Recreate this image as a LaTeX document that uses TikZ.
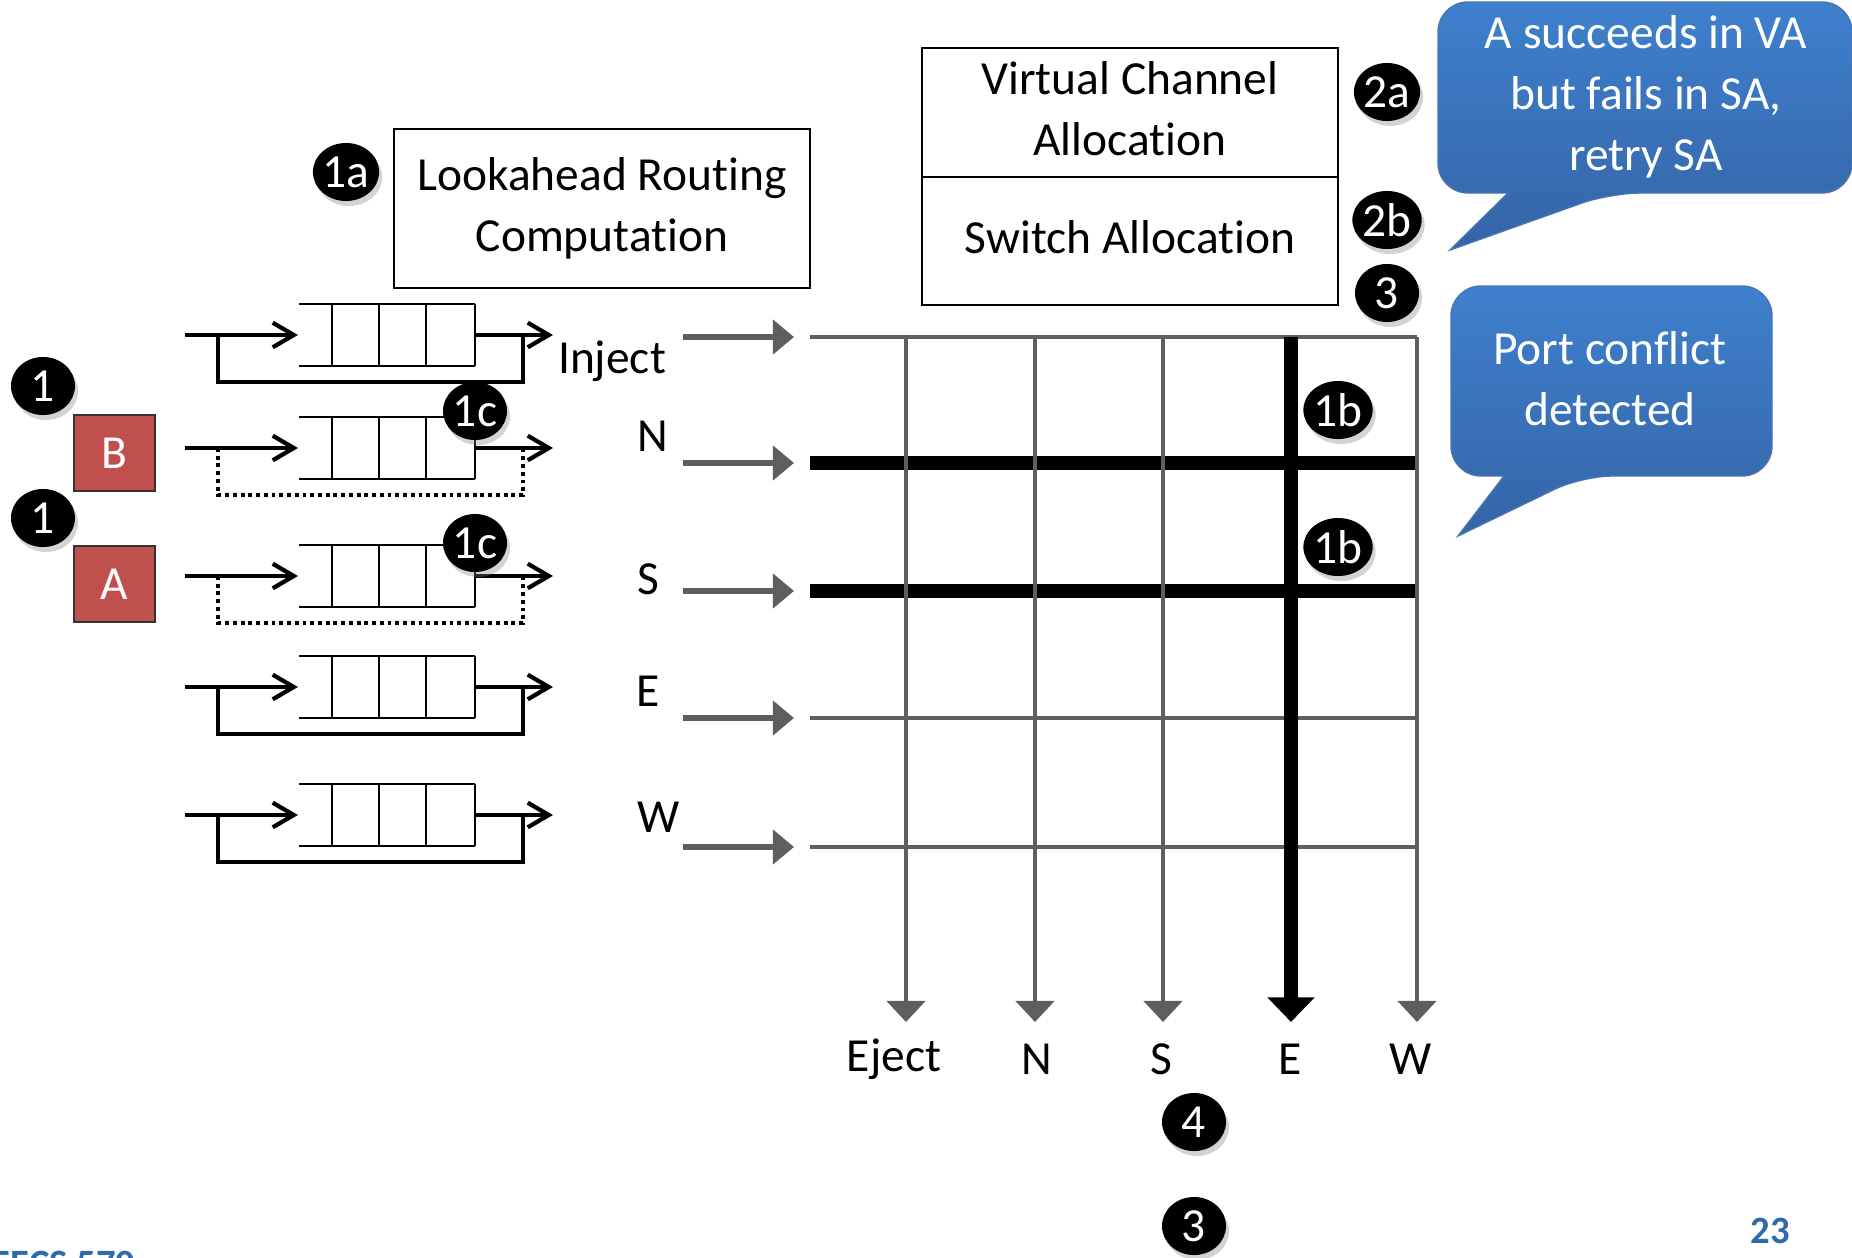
\documentclass[tikz,border=0pt]{standalone}
\usepackage{fontspec}
\setmainfont{Carlito}[Ligatures=NoCommon]
\usepackage{tikz}
\usetikzlibrary{arrows.meta}
\usetikzlibrary{shapes.geometric}
\usetikzlibrary{shadows}

\definecolor{pktred}{HTML}{C0504D}
\definecolor{calltop}{HTML}{3F80CD}
\definecolor{callbot}{HTML}{3464A6}
\definecolor{xbargray}{HTML}{5E5E5E}
\definecolor{slideblue}{HTML}{2F6BAA}

\newcommand{\slidefont}{\fontsize{13.5}{17.4}\selectfont}

\tikzset{
	stage/.style={draw, line width=0.6pt, inner sep=0pt, font=\slidefont},
	badge/.style={ellipse, fill=black, text=white, inner sep=0pt, minimum width=0.64cm, minimum height=0.58cm, font=\slidefont, drop shadow={shadow xshift=0.03cm, shadow yshift=-0.05cm, opacity=0.35}},
	packet/.style={draw=black!80, line width=0.6pt, fill=pktred, text=white, minimum width=0.81cm, minimum height=0.76cm, inner sep=0pt, font=\slidefont},
	port/.style={font=\slidefont, inner sep=0pt},
	bubble/.style={top color=calltop, bottom color=callbot, draw=callbot!90!white, line width=0.4pt},
	bubbletext/.style={text=white, font=\slidefont, inner sep=0pt},
	qarrow/.style={line width=1pt, -{Straight Barb[length=6pt, width=7pt, line width=1.2pt]}},
	buffer/.style={line width=0.6pt},
	bypass/.style={line width=1pt},
	held/.style={dash pattern=on 1.1pt off 1.1pt},
	free/.style={solid},
	feed/.style={xbargray, line width=1.6pt, -{Triangle[length=6pt, width=9.6pt]}},
	xline/.style={xbargray, line width=1.4pt},
	xbold/.style={black, line width=3.8pt},
	outgray/.style={xbargray, line width=1.4pt, -{Triangle[length=6pt, width=10.8pt]}},
	outbold/.style={black, line width=3.8pt, -{Triangle[length=7pt, width=13pt]}}
}

\begin{document}
\begin{tikzpicture}[x=0.01cm, y=-0.01cm]
		\useasboundingbox (0,0) rectangle (1852,1257);
		
		\node[stage, minimum width=4.16cm, minimum height=1.59cm] (lrc) at (602,208.5){\begin{tabular}{c}Lookahead Routing\\Computation\end{tabular}};
		\node[stage, minimum width=4.16cm, minimum height=1.29cm] (vca) at (1130,112.5){\begin{tabular}{c}Virtual Channel\\Allocation\end{tabular}};
		\node[stage, minimum width=4.16cm, minimum height=1.28cm] (swa) at (1130,241){\begin{tabular}{c}Switch Allocation\end{tabular}};
		
		\shade[bubble, rounded corners=0.3cm] (1438,2) -- (1852,2) -- (1852,193) -- (1610,193) [sharp corners] -- (1450,250) -- (1508,193) [rounded corners=0.3cm] -- (1438,193) -- cycle;
		\node[bubbletext] (vamsg) at (1646,97){\begin{tabular}{c}A succeeds in VA\\but fails in SA,\\retry SA\end{tabular}};
		
		\shade[bubble, rounded corners=0.3cm] (1451,286) -- (1772,286) -- (1772,476) -- (1582,476) [sharp corners] -- (1458,536) -- (1504,476) [rounded corners=0.3cm] -- (1451,476) -- cycle;
		\node[bubbletext] (conflict) at (1610,383){\begin{tabular}{c}Port conflict\\detected\end{tabular}};
		
		\foreach \y/\lp [count=\r] in {335/free,448/held,576/held,687/free,815/free}{
			\coordinate (src\r) at (185,\y);
			\coordinate (buf\r) at (298,\y);
			\coordinate (bufend\r) at (475,\y);
			\coordinate (dst\r) at (553,\y);
			\draw[bypass,\lp] (218,\y) -- (218,\y+47) -- (523,\y+47) -- (523,\y);
			\draw[buffer] (299,\y-31) -- (475,\y-31) (299,\y+31) -- (475,\y+31);
			\foreach \x in {332,379,426,475}
				\draw[buffer] (\x,\y-31) -- (\x,\y+31);
			\draw[qarrow] (src\r) -- (buf\r);
			\draw[qarrow] (bufend\r) -- (dst\r);
		}
		
		\node[packet] (pktB) at (114.5,453){B};
		\node[packet] (pktA) at (114.5,584){A};
		
		\node[port] (inInject) at (612,361){Inject};
		\node[port] (inN) at (653,436){N};
		\node[port] (inS) at (648,579){S};
		\node[port] (inE) at (648,691){E};
		\node[port] (inW) at (659,817){W};
		
		\foreach \y [count=\r] in {337,463,591,718,847}{
			\coordinate (gin\r) at (683,\y);
			\coordinate (gtip\r) at (794,\y);
			\coordinate (xin\r) at (810,\y);
			\coordinate (xout\r) at (1417,\y);
			\draw[feed] (gin\r) -- (gtip\r);
		}
		\foreach \x [count=\c] in {906,1035,1163,1291,1417}{
			\coordinate (ctop\c) at (\x,337);
			\coordinate (cbot\c) at (\x,1022);
		}
		
		\draw[xline] (xin1) -- (xout1);
		\draw[xline] (xin4) -- (xout4);
		\draw[xline] (xin5) -- (xout5);
		\draw[xbold] (xin2) -- (xout2);
		\draw[xbold] (xin3) -- (xout3);
		\foreach \c in {1,2,3,5}
			\draw[outgray] (ctop\c) -- (cbot\c);
		\draw[outbold] (ctop4) -- (cbot4);
		
		\node[port] (outEject) at (894,1059){Eject};
		\node[port] (outN) at (1037,1059){N};
		\node[port] (outS) at (1161,1059){S};
		\node[port] (outE) at (1290,1059){E};
		\node[port] (outW) at (1411,1059){W};
		
		\node[badge] (s1a) at (346,172){1a};
		\node[badge] (s2a) at (1387,92){2a};
		\node[badge] (s2b) at (1387,220){2b};
		\node[badge] (s3top) at (1387,293){3};
		\node[badge] (s1B) at (43,386){1};
		\node[badge] (s1A) at (43,518){1};
		\node[badge] (s1cB) at (475,411){1c};
		\node[badge] (s1cA) at (475,543){1c};
		\node[badge] (s1bN) at (1338,410){1b};
		\node[badge] (s1bS) at (1338,547){1b};
		\node[badge] (s4) at (1194,1122){4};
		\node[badge] (s3bot) at (1194,1226){3};
		
		\node[anchor=base east, text=slideblue, font=\fontsize{11}{13}\selectfont\bfseries, inner sep=0pt] (course) at (136,1276){EECS 570};
		\node[text=slideblue, font=\fontsize{11}{13}\selectfont\bfseries, inner sep=0pt] (pageno) at (1770,1231){23};
		
		\end{tikzpicture}
\end{document}
